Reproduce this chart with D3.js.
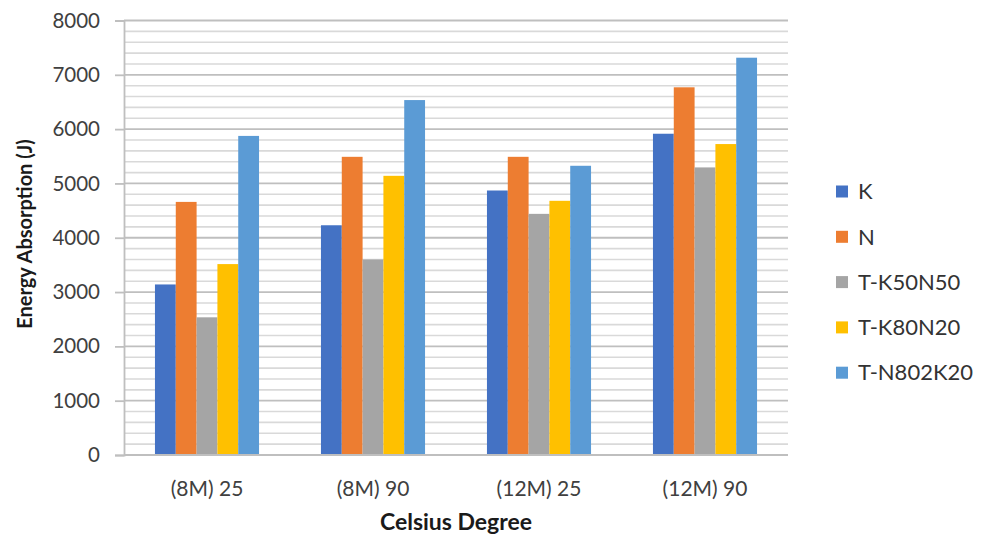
<!DOCTYPE html>
<html>
<head>
<meta charset="utf-8">
<script src="https://cdn.jsdelivr.net/npm/d3@7/dist/d3.min.js"></script>
<style>
  html, body { margin: 0; padding: 0; background: #fff; }
  svg { display: block; }
  text { font-family: Lato, "Open Sans", sans-serif; }
</style>
</head>
<body>
<svg id="chart" width="984" height="538"></svg>
<script>
// Energy absorption per specimen group and fibre series
const categories = ["(8M) 25", "(8M) 90", "(12M) 25", "(12M) 90"];
const seriesNames = ["K", "N", "T-K50N50", "T-K80N20", "T-N802K20"];
const seriesColors = ["#4472C4", "#ED7D31", "#A5A5A5", "#FFC000", "#5B9BD5"];
const valuesK        = [3140, 4230, 4870, 5915];
const valuesN        = [4660, 5490, 5490, 6770];
const valuesK50N50   = [2535, 3600, 4440, 5295];
const valuesK80N20   = [3515, 5140, 4680, 5725];
const valuesN802K20  = [5875, 6535, 5325, 7315];
const yTicks = [0, 1000, 2000, 3000, 4000, 5000, 6000, 7000, 8000];
const yMax = 8000;
const minorStep = 200;

const series = [valuesK, valuesN, valuesK50N50, valuesK80N20, valuesN802K20];

const svg = d3.select("#chart");
const plot = { left: 124, right: 788, top: 20.5, bottom: 455 };

const x0 = d3.scaleBand().domain(categories)
  .range([plot.left, plot.right]).paddingInner(0.373).paddingOuter(0.1865);
const x1 = d3.scaleBand().domain(seriesNames).range([0, x0.bandwidth()]);
const y = d3.scaleLinear().domain([0, yMax]).range([plot.bottom, plot.top]);

// minor gridlines
const minor = d3.range(0, yMax + 1, minorStep).filter(v => v % 1000 !== 0);
svg.append("g").selectAll("line").data(minor).join("line")
  .attr("x1", plot.left).attr("x2", plot.right)
  .attr("y1", d => y(d)).attr("y2", d => y(d))
  .attr("stroke", "#d9d9d9").attr("stroke-width", 1.6);

// major gridlines
svg.append("g").selectAll("line").data(yTicks.filter(v => v > 0)).join("line")
  .attr("x1", plot.left).attr("x2", plot.right)
  .attr("y1", d => y(d)).attr("y2", d => y(d))
  .attr("stroke", "#bfbfbf").attr("stroke-width", 1.8);

// bars
const groups = svg.append("g").selectAll("g").data(categories).join("g")
  .attr("transform", c => `translate(${x0(c)},0)`);
groups.selectAll("rect")
  .data((c, i) => seriesNames.map((s, k) => ({ s, k, v: series[k][i] })))
  .join("rect")
  .attr("x", d => x1(d.s))
  .attr("width", x1.bandwidth())
  .attr("y", d => y(d.v))
  .attr("height", d => y(0) - y(d.v))
  .attr("fill", d => seriesColors[d.k]);

// y axis
const yAxis = d3.axisLeft(y).tickValues(yTicks).tickSize(9).tickPadding(15)
  .tickFormat(d3.format("d"));
const gy = svg.append("g").attr("transform", `translate(${plot.left},0)`).call(yAxis);
gy.select(".domain").attr("stroke", "#bfbfbf").attr("stroke-width", 1.8);
gy.selectAll(".tick line").attr("stroke", "#bfbfbf").attr("stroke-width", 1.8);
gy.selectAll(".tick text").attr("fill", "#404040").style("font-size", "20.5px")
  .style("font-family", "Lato, 'Open Sans', sans-serif");

// x axis
const xAxis = d3.axisBottom(x0).tickSize(0).tickPadding(26);
const gx = svg.append("g").attr("transform", `translate(0,${plot.bottom})`).call(xAxis);
gx.select(".domain").attr("stroke", "#bfbfbf").attr("stroke-width", 1.8)
  .attr("d", `M${plot.left},0H${plot.right}`);
gx.selectAll(".tick text").attr("fill", "#404040").style("font-size", "21px")
  .style("font-family", "Lato, 'Open Sans', sans-serif");

// axis titles
svg.append("text")
  .attr("x", (plot.left + plot.right) / 2).attr("y", 530)
  .attr("text-anchor", "middle")
  .style("font-size", "23px").style("font-weight", "bold").attr("fill", "#1a1a1a")
  .text("Celsius Degree");
svg.append("text")
  .attr("transform", "translate(32,234) rotate(-90)")
  .attr("text-anchor", "middle")
  .style("font-size", "20px").style("font-weight", "bold").attr("fill", "#1a1a1a")
  .text("Energy Absorption (J)");

// legend
const legend = svg.append("g").selectAll("g").data(seriesNames).join("g")
  .attr("transform", (d, i) => `translate(836,${191.5 + i * 45.3})`);
legend.append("rect").attr("x", 0).attr("y", -6).attr("width", 12).attr("height", 12)
  .attr("fill", (d, i) => seriesColors[i]);
legend.append("text").attr("x", 22).attr("y", 0).attr("dy", "0.35em")
  .style("font-size", "22px").attr("fill", "#333").text(d => d);
</script>
</body>
</html>
